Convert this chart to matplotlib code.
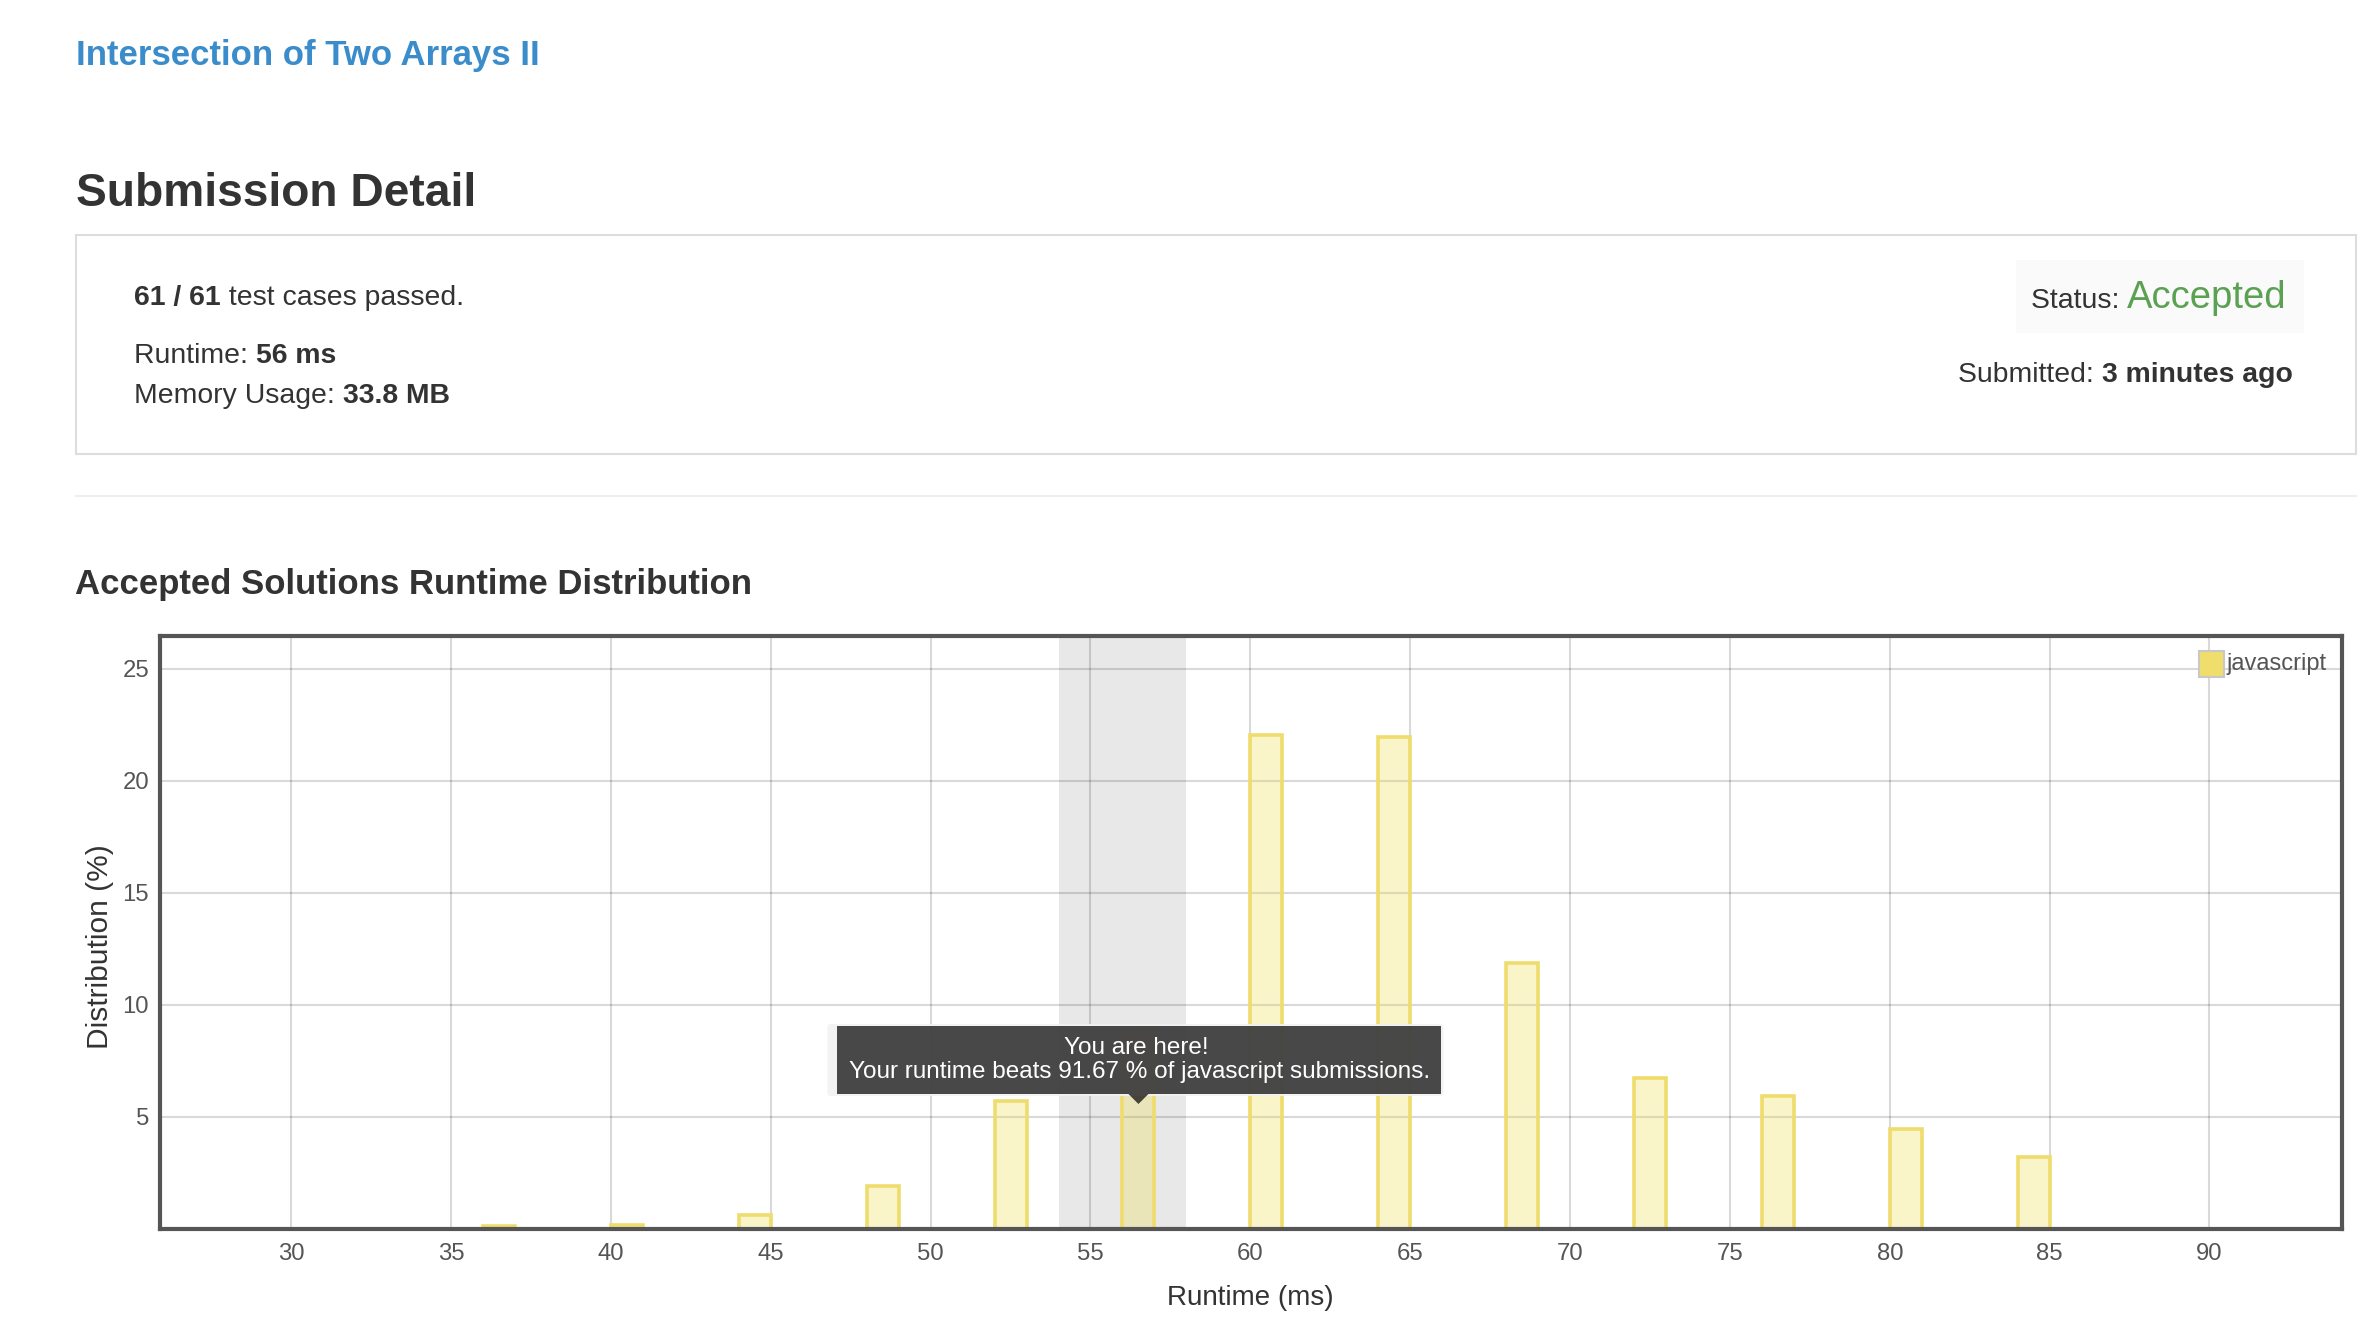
import matplotlib
matplotlib.use("Agg")
import matplotlib.pyplot as plt
from matplotlib.patches import Rectangle, FancyBboxPatch, Polygon

plt.rcParams["font.family"] = ["Liberation Sans", "DejaVu Sans"]

W, H, DPI = 2380, 1336, 100

# runtime bins (ms, left edge of bar) and share of accepted submissions (%)
runtime_bins = [36, 40, 44, 48, 52, 56, 60, 64, 68, 72, 76, 80, 84]
distribution = [0.1, 0.16, 0.6, 1.92, 5.71, 8.84, 22.02, 21.94, 11.85, 6.73, 5.91, 4.45, 3.2]
x_ticks = [30, 35, 40, 45, 50, 55, 60, 65, 70, 75, 80, 85, 90]
y_ticks = [5, 10, 15, 20, 25]
my_bin = 56
beats = 91.67

fig = plt.figure(figsize=(W / DPI, H / DPI), dpi=DPI)
fig.patch.set_facecolor("white")

# chart axes (pixel box of the plot frame)
L, R, T, B = 159.5, 2341.5, 635.5, 1228.7
ax = fig.add_axes([L / W, 1 - B / H, (R - L) / W, (B - T) / H])
ax.set_xlim(25.88, 94.13)
ax.set_ylim(0, 26.48)

ax.axvspan(my_bin - 2, my_bin + 2, color="#e8e8e8", lw=0, zorder=0)
ax.bar(runtime_bins, distribution, width=1.0, align="edge",
       color=(240 / 255, 219 / 255, 79 / 255, 0.3), edgecolor="#efdc6c",
       linewidth=2.6, zorder=2)

ax.set_xticks(x_ticks)
ax.set_yticks(y_ticks)
ax.set_axisbelow(True)
ax.grid(True, color="black", alpha=0.15, lw=1.5)
ax.tick_params(length=0, labelsize=17.2, labelcolor="#555555")
ax.tick_params(axis="x", pad=10)
ax.tick_params(axis="y", pad=7.5)
for s in ax.spines.values():
    s.set_color("#555555")
    s.set_linewidth(3)
ax.set_xlabel("Runtime (ms)", fontsize=20, color="#333333", labelpad=15)
ax.set_ylabel("Distribution (%)", fontsize=21.5, color="#333333")
ax.yaxis.set_label_coords((114 - L) / (R - L), (B - 947) / (B - T))

# overlay in pixel coordinates for page text, legend and tooltip
ov = fig.add_axes([0, 0, 1, 1], zorder=5)
ov.set_xlim(0, W)
ov.set_ylim(H, 0)
ov.axis("off")
ov.patch.set_alpha(0)

renderer = fig.canvas.get_renderer()


def run_text(x, y, parts, ha="left"):
    items = []
    for s, size, weight, color in parts:
        t = ov.text(0, y, s, fontsize=size, fontweight=weight, color=color,
                    va="baseline", ha="left")
        items.append((t, t.get_window_extent(renderer).width))
    cx = x - sum(w for _, w in items) if ha == "right" else x
    for t, w in items:
        t.set_x(cx)
        cx += w


ov.text(76, 65, "Intersection of Two Arrays II", fontsize=25, fontweight="bold",
        color="#3a8ccb", va="baseline")
ov.text(76, 206, "Submission Detail", fontsize=33.2, fontweight="bold",
        color="#333333", va="baseline")

# detail box
ov.add_patch(Rectangle((76, 235), 2280, 219, fill=False, ec="#dddddd", lw=1.5))
ov.add_patch(Rectangle((2016, 260), 288, 73, fc="#fafafa", ec="none"))
body = 20.4
run_text(134, 305, [("61 / 61", body, "bold", "#333333"),
                    (" test cases passed.", body, "normal", "#333333")])
run_text(134, 363, [("Runtime: ", body, "normal", "#333333"),
                    ("56 ms", body, "bold", "#333333")])
run_text(134, 403, [("Memory Usage: ", body, "normal", "#333333"),
                    ("33.8 MB", body, "bold", "#333333")])
run_text(2287, 308, [("Status: ", body, "normal", "#333333"),
                     ("Accepted", 27.5, "normal", "#5aa152")], ha="right")
run_text(2293, 382, [("Submitted: ", body, "normal", "#333333"),
                     ("3 minutes ago", body, "bold", "#333333")], ha="right")

ov.plot([76, 2356], [496, 496], color="#eeeeee", lw=1.5)
ov.text(75, 594, "Accepted Solutions Runtime Distribution", fontsize=25, fontweight="bold",
        color="#333333", va="baseline")

# legend
ov.add_patch(Rectangle((2199, 651), 25, 26, fc="#efdd6c", ec="#c8c8c8", lw=1.5))
ov.text(2227, 664, "javascript", fontsize=17, color="#555555", va="center", ha="left")

# tooltip at my bar
cx = ax.transData.transform((my_bin + 0.5, 0))[0]
ov.add_patch(FancyBboxPatch((cx - 311, 1024), 616, 72, boxstyle="round,pad=0,rounding_size=3",
                            fc=(0.95, 0.95, 0.95, 0.9), ec="none"))
ov.add_patch(Rectangle((cx - 301, 1026), 604, 68, fc=(0, 0, 0, 0.7), ec="none"))
ov.add_patch(Polygon([[cx - 10, 1094], [cx + 10, 1094], [cx, 1104]], closed=True,
                     fc=(0, 0, 0, 0.7), ec="none"))
ov.text(cx - 2, 1048, "You are here!", fontsize=17.5, color="white", ha="center", va="center")
ov.text(cx + 1, 1072, f"Your runtime beats {beats} % of javascript submissions.",
        fontsize=17.5, color="white", ha="center", va="center")

fig.savefig("out.png", dpi=DPI)
